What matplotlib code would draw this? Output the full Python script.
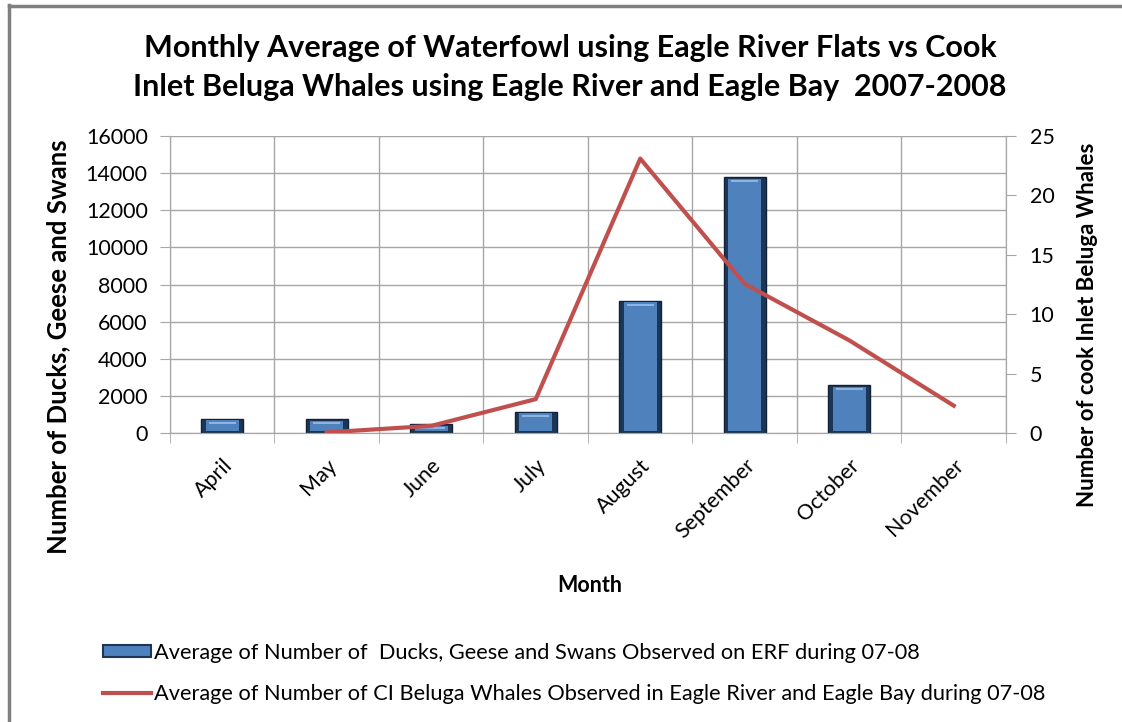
# Waterfowl vs beluga whales, Eagle River 2007-2008
import numpy as np
import matplotlib.pyplot as plt
from matplotlib.lines import Line2D
from matplotlib.patches import Patch

plt.rcParams['font.family'] = ['Lato', 'DejaVu Sans']

# Data
months = ['April', 'May', 'June', 'July', 'August', 'September', 'October', 'November']
waterfowl = [780, 740, 480, 1150, 7130, 13780, 2590, 0]
belugas = [np.nan, 0.05, 0.6, 2.85, 23.1, 12.55, 7.8, 2.3]

bar_label = 'Average of Number of  Ducks, Geese and Swans Observed on ERF during 07-08'
line_label = 'Average of Number of CI Beluga Whales Observed in Eagle River and Eagle Bay during 07-08'

grid_c = '#a6a6a6'
x = np.arange(len(months))

fig = plt.figure(figsize=(11.22, 7.22), dpi=100)
ax = fig.add_axes([0.1515, 0.4003, 0.7451, 0.4113])

# bars with a simple bevel: dark outer bar, lighter inner face, top highlight
w = 0.4
bx = [i for i, v in zip(x, waterfowl) if v > 0]
bv = [v for v in waterfowl if v > 0]
ax.bar(bx, bv, width=w, color='#1c3655', edgecolor='#10223a', linewidth=1, zorder=2)
ax.bar(bx, [v - 190 for v in bv], width=w - 0.08, bottom=95,
       color='#4f81bd', linewidth=0, zorder=3)
ax.bar(bx, [110] * len(bv), width=w - 0.14, bottom=[v - 280 for v in bv],
       color='#8db4e3', linewidth=0, zorder=4)

ax.set_xlim(-0.5, len(months) - 0.5)
ax.set_ylim(0, 16000)
ax.set_yticks(np.arange(0, 16001, 2000))
ax.set_xticks(x)
ax.set_xticklabels(months, rotation=45, ha='right', va='top', rotation_mode='anchor', fontsize=15.5)
ax.set_xticks(np.arange(-0.5, len(months), 1), minor=True)
ax.tick_params(axis='x', which='major', length=0, pad=16)
ax.tick_params(axis='x', which='minor', length=7, color=grid_c, direction='out')
ax.tick_params(axis='y', length=7, color=grid_c, labelsize=15.5, pad=9)
ax.grid(axis='y', color=grid_c, linewidth=1, zorder=0)
ax.grid(axis='x', which='minor', color=grid_c, linewidth=1, zorder=0)
ax.set_axisbelow(True)
for s in ['left', 'bottom', 'right']:
    ax.spines[s].set_color(grid_c)
ax.spines['top'].set_visible(False)

ax2 = ax.twinx()
ax2.plot(x, belugas, color='#c0504d', linewidth=3, zorder=5)
ax2.set_ylim(0, 25)
ax2.set_yticks(np.arange(0, 26, 5))
ax2.tick_params(axis='y', length=7, color=grid_c, labelsize=15.5, pad=10)
for s in ['left', 'bottom', 'right']:
    ax2.spines[s].set_color(grid_c)
ax2.spines['top'].set_visible(False)

fig.text(0.508, 0.933, 'Monthly Average of Waterfowl using Eagle River Flats vs Cook',
         ha='center', va='center', fontsize=22, fontweight='bold')
fig.text(0.508, 0.879, 'Inlet Beluga Whales using Eagle River and Eagle Bay  2007-2008',
         ha='center', va='center', fontsize=22, fontweight='bold')
fig.text(0.052, 1 - 347 / 722, 'Number of Ducks, Geese and Swans', rotation=90,
         ha='center', va='center', fontsize=18.5, fontweight='bold')
fig.text(0.969, 1 - 325 / 722, 'Number of cook Inlet Beluga Whales', rotation=90,
         ha='center', va='center', fontsize=16, fontweight='bold')
fig.text(0.526, 1 - 585 / 722, 'Month', ha='center', va='center', fontsize=15.5, fontweight='bold')

handles = [Patch(facecolor='#4f81bd', edgecolor='#1c3655', linewidth=1.5),
           Line2D([0], [0], color='#c0504d', linewidth=3)]
fig.legend(handles, [bar_label, line_label], loc='upper left',
           bbox_to_anchor=(0.092, 1 - 643 / 722), frameon=False, fontsize=15.7,
           handlelength=2.2, handleheight=0.5, handletextpad=0.15, labelspacing=0.95,
           borderpad=0, borderaxespad=0)

# frame lines at left and top edges of the picture
fig.add_artist(Line2D([9 / 1122, 9 / 1122], [0, 1 - 5 / 722], color='#7f7f7f', linewidth=2.5))
fig.add_artist(Line2D([9 / 1122, 1], [1 - 6 / 722, 1 - 6 / 722], color='#7f7f7f', linewidth=2.5))

fig.savefig('out.png', dpi=100)
